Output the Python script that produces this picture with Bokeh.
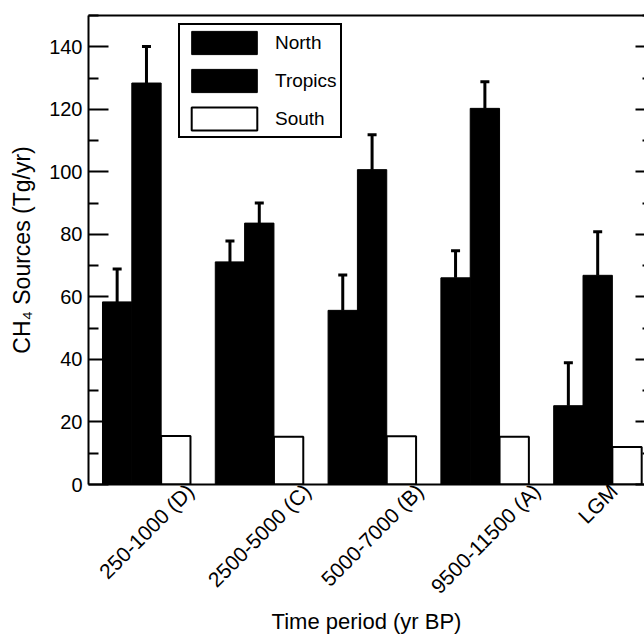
from math import sqrt, pi
from bokeh.plotting import figure
from bokeh.models import (ColumnDataSource, LinearAxis, FixedTicker, Range1d,
                          Legend, LegendItem, Whisker, TeeHead)
from bokeh.embed import file_html
from bokeh.resources import INLINE

# ---- data ----
categories = ["250-1000 (D)", "2500-5000 (C)", "5000-7000 (B)", "9500-11500 (A)", "LGM"]
north = [58.4, 71.2, 55.7, 66.1, 25.2]
north_err = [10.5, 6.7, 11.3, 8.7, 13.7]
tropics = [128.4, 83.6, 100.7, 120.3, 66.9]
tropics_err = [11.7, 6.4, 11.2, 8.5, 13.9]
south = [15.5, 15.3, 15.4, 15.3, 12.0]
y_ticks = [0, 20, 40, 60, 80, 100, 120, 140]
series_names = ["North", "Tropics", "South"]

# ---- layout / style ----
FONT = "Liberation Sans"
W, H = 644, 636
LEFT, TOP = 88, 15
FRAME_H = 470
X0, X1 = -0.514, 4.415
Y_MAX = 150
BAR_W = 0.26
LW = 2
LABEL_PX = 21

idx = list(range(len(categories)))
x_north = [i - BAR_W for i in idx]
x_trop = [i for i in idx]
x_south = [i + BAR_W for i in idx]

p = figure(width=W, height=H, output_backend="svg", toolbar_location=None,
           x_range=Range1d(X0, X1), y_range=Range1d(0, Y_MAX),
           min_border_left=LEFT, min_border_right=0, min_border_top=TOP,
           min_border_bottom=H - TOP - FRAME_H,
           x_axis_location=None, y_axis_location=None)
p.outline_line_color = None
p.grid.visible = False
p.background_fill_color = "white"
p.border_fill_color = "white"

minor = [t + 10 for t in y_ticks]

def style_axis(ax):
    ax.axis_line_color = "black"
    ax.axis_line_width = LW
    ax.major_tick_line_color = "black"
    ax.major_tick_line_width = LW
    ax.minor_tick_line_color = "black"
    ax.minor_tick_line_width = LW
    ax.major_tick_out = 0
    ax.minor_tick_out = 0
    ax.major_label_text_font = FONT
    ax.axis_label_text_font = FONT
    ax.axis_label_text_font_style = "normal"
    ax.axis_label_text_color = "black"
    ax.major_label_text_color = "black"

left = LinearAxis(ticker=FixedTicker(ticks=y_ticks, minor_ticks=minor),
                  axis_label="CH\u2084 Sources (Tg/yr)")
style_axis(left)
left.major_tick_in = 20
left.minor_tick_in = 10
left.major_label_text_font_size = "20px"
left.major_label_standoff = 6
left.axis_label_text_font_size = "23px"
left.axis_label_standoff = 11
p.add_layout(left, "left")

right = LinearAxis(ticker=FixedTicker(ticks=y_ticks, minor_ticks=minor))
style_axis(right)
right.axis_line_color = None
right.major_tick_in = 9
right.minor_tick_in = 2
right.major_label_text_font_size = "0px"
right.major_label_standoff = 0
p.add_layout(right, "right")

top = LinearAxis(ticker=FixedTicker(ticks=[]))
style_axis(top)
top.major_label_text_font_size = "0px"
top.major_label_standoff = 0
p.add_layout(top, "above")

# Category labels: rotated 45 deg; Bokeh anchors each label at its right end,
# so shift each tick by half the label's projected length to centre it on its group.
CW = {"0": 556, "1": 556, "2": 556, "3": 556, "4": 556, "5": 556, "6": 556,
      "7": 556, "8": 556, "9": 556, "-": 333, " ": 278, "(": 333, ")": 333,
      "A": 667, "B": 667, "C": 722, "D": 722, "L": 556, "G": 778, "M": 833}
px_per_x = (W - LEFT) / (X1 - X0)
cat_ticks = []
for i, cat in enumerate(categories):
    L = sum(CW.get(c, 556) for c in cat) * LABEL_PX / 1000.0
    cat_ticks.append(round(i + (L / sqrt(2) / 2) / px_per_x, 6))

bottom = LinearAxis(ticker=FixedTicker(ticks=cat_ticks, minor_ticks=[]),
                    axis_label="Time period (yr BP)")
style_axis(bottom)
bottom.major_tick_in = 0
bottom.major_tick_line_color = None
bottom.minor_tick_line_color = None
bottom.major_label_overrides = {t: c for t, c in zip(cat_ticks, categories)}
bottom.major_label_orientation = pi / 4
bottom.major_label_text_font_size = f"{LABEL_PX}px"
bottom.major_label_standoff = 3
bottom.axis_label_text_font_size = "22px"
bottom.axis_label_standoff = 0
p.add_layout(bottom, "below")

# ---- bars ----
src = ColumnDataSource(dict(xn=x_north, xt=x_trop, xs=x_south,
                            north=north, tropics=tropics, south=south,
                            n_up=[v + e for v, e in zip(north, north_err)],
                            t_up=[v + e for v, e in zip(tropics, tropics_err)]))

rn = p.vbar(x="xn", top="north", width=BAR_W, source=src,
            fill_color="black", line_color="black", line_width=1)
rt = p.vbar(x="xt", top="tropics", width=BAR_W, source=src,
            fill_color="black", line_color="black", line_width=1)
rs = p.vbar(x="xs", top="south", width=BAR_W, source=src,
            fill_color="white", line_color="black", line_width=LW)

for xcol, lo, up in [("xn", "north", "n_up"), ("xt", "tropics", "t_up")]:
    w = Whisker(source=src, base=xcol, lower=lo, upper=up, dimension="height",
                line_color="black", line_width=3, lower_head=None,
                upper_head=TeeHead(size=9, line_color="black", line_width=3),
                level="overlay")
    p.add_layout(w)

# ---- legend ----
legend = Legend(items=[LegendItem(label=series_names[0], renderers=[rn]),
                       LegendItem(label=series_names[1], renderers=[rt]),
                       LegendItem(label=series_names[2], renderers=[rs])],
                location=(90, 346), orientation="vertical",
                glyph_width=82, glyph_height=29, label_height=29, label_width=62,
                label_standoff=10, padding=3, spacing=9, margin=0,
                border_line_color="black", border_line_width=LW, border_line_alpha=1.0,
                background_fill_color="white", background_fill_alpha=1.0,
                label_text_font=FONT, label_text_font_size="19px",
                label_text_color="black")
p.add_layout(legend)

open("out.html", "w").write(file_html(p, INLINE))
